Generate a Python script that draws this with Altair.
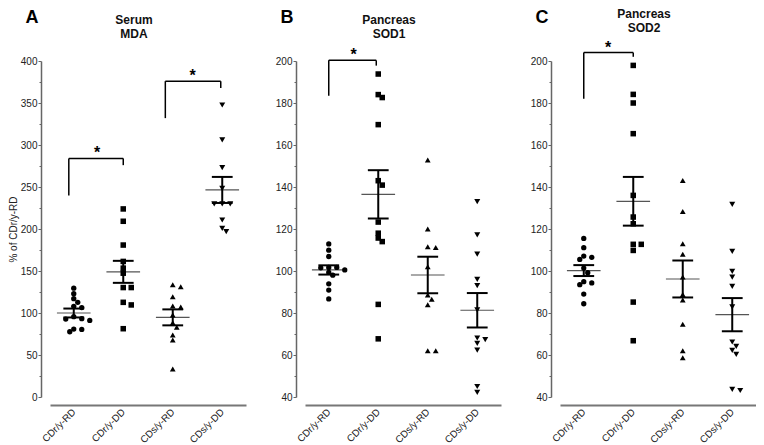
import json
import altair as alt
import pandas as pd

GROUPS = ["CDr/y-RD", "CDr/y-DD", "CDs/y-RD", "CDs/y-DD"]
SHAPES = ["circle", "square", "triangle-up", "triangle-down"]

# ---------------- Panel A: Serum MDA ----------------
A_CDR_RD = [129.5, 123, 117, 112.7, 108, 106.4, 95.6, 93.2, 92.8, 91.2, 80.9, 80.5, 77.7]
A_CDR_DD = [223.9, 209.2, 180.9, 161.4, 153.4, 147.4, 130.3, 130.3, 112.7, 109.6, 81.3]
A_CDS_RD = [133.7, 131.3, 119.4, 108.3, 107.1, 97.6, 88.5, 82.9, 73.8, 67.9, 33.3]
A_CDS_DD = [347.6, 306, 273, 248.3, 229.8, 229.8, 229.8, 210.7, 200.7, 196.8]
A_MEAN = [100.0, 149.0, 94.8, 246.5]
A_SEM = [5.3, 13.1, 9.5, 15.5]
A_BR_X1 = [-0.1, 1.85]
A_BR_X2 = [1.0, 2.97]
A_BR_TOP = [284, 376]
A_BR_LEFT_END = [240, 332]
A_BR_RIGHT_END = [276, 368]
A_STAR_X = [0.47, 2.4]

# ---------------- Panel B: Pancreas SOD1 ----------------
B_CDR_RD = [112.9, 109.9, 106.9, 101.7, 101.7, 101.5, 100.5, 99.3, 98, 93.9, 90.9, 86.7]
B_CDR_DD = [193.8, 184, 182.6, 169.7, 143, 140.9, 123.3, 118, 115.7, 114, 84.1, 67.7]
B_CDS_RD = [152.8, 120, 111.6, 111.2, 102, 88.6, 86.6, 83.9, 62, 62]
B_CDS_DD = [133, 117.2, 108, 96, 93, 81.5, 68.1, 67.3, 65.5, 62.3, 45, 42.2]
B_MEAN = [100.5, 136.5, 98.1, 81.3]
B_SEM = [2.2, 11.5, 8.7, 8.2]
B_BR_X1 = [0.0]
B_BR_X2 = [0.96]
B_BR_TOP = [200.3]
B_BR_LEFT_END = [183.4]
B_BR_RIGHT_END = [197.8]
B_STAR_X = [0.5]

# ---------------- Panel C: Pancreas SOD2 ----------------
C_CDR_RD = [115.5, 111.1, 107.1, 106.5, 105.5, 101.4, 99.2, 94.9, 94.3, 93.5, 89, 84.4]
C_CDR_DD = [197.9, 184.1, 180, 165.4, 136, 125.7, 122.5, 112.7, 112.7, 109.8, 85.2, 66.8]
C_CDS_RD = [143.1, 128.3, 113, 108, 97.2, 88.8, 86.2, 74.6, 62, 58.7]
C_CDS_DD = [131.7, 109.3, 99.8, 97.1, 92.7, 82.9, 66.2, 64.1, 62.2, 60.3, 43.6, 43.1]
C_MEAN = [100.2, 133.2, 96.2, 79.2]
C_SEM = [2.6, 11.6, 8.8, 7.9]
C_BR_X1 = [0.0]
C_BR_X2 = [1.0]
C_BR_TOP = [204]
C_BR_LEFT_END = [182]
C_BR_RIGHT_END = [202]
C_STAR_X = [0.49]

FONT = "Liberation Sans"
W, H = 196, 336
XDOM = [-0.48, 3.48]
UNIT_PX = W / (XDOM[1] - XDOM[0])


def swarm(vals, ppu, step=4.0, dmin=4.8):
    order = sorted(range(len(vals)), key=lambda i: -vals[i])
    cands = [0.0]
    for k in range(1, 12):
        cands += [k * step, -k * step]
    placed = []
    off = [0.0] * len(vals)
    for i in order:
        y = vals[i] * ppu
        chosen = 0.0
        for c in cands:
            if all((c - px) ** 2 + (y - py) ** 2 >= dmin ** 2 for px, py in placed):
                chosen = c
                break
        placed.append((chosen, y))
        off[i] = chosen / UNIT_PX
    return off


def panel(letter, title, title_top, data, means, sems, br, ydom, step, ytitle):
    ppu = H / (ydom[1] - ydom[0])
    xscale = alt.Scale(domain=XDOM, nice=False, zero=False)
    xaxis = alt.Axis(
        values=[0, 1, 2, 3],
        labelExpr=json.dumps(GROUPS) + "[datum.value]",
        labelAngle=-45, labelAlign="right", labelBaseline="middle",
        ticks=False, grid=False, title=None, offset=8,
        domainColor="#777", domainWidth=2, labelPadding=5,
        labelFontSize=9.8, labelColor="#222", labelFont=FONT,
    )
    yscale = alt.Scale(domain=list(ydom), nice=False, zero=False)
    yvals = list(range(ydom[0], ydom[1] + 1, step // 2))
    test = f"datum.value % {step} === 0"
    yaxis = alt.Axis(
        values=yvals,
        labelExpr=f"{test} ? datum.label : ''",
        tickSize={"condition": {"test": test, "value": 3}, "value": 2},
        offset=9, grid=False, domainColor="#666", domainWidth=1.5,
        tickColor="#666", tickWidth=1, labelPadding=1, labelFontSize=10,
        labelColor="#222", labelFont=FONT,
        title=ytitle if ytitle else None, titleFontSize=10,
        titleFontWeight="normal", titleColor="#222", titleFont=FONT,
        titlePadding=2,
    )

    def X(f):
        return alt.X(f, type="quantitative", scale=xscale, axis=xaxis)

    def Y(f):
        return alt.Y(f, type="quantitative", scale=yscale, axis=yaxis)

    rows = []
    for gi, (name, vals) in enumerate(zip(GROUPS, data)):
        offs = swarm(vals, ppu)
        for v, o in zip(vals, offs):
            rows.append({"g": name, "x": gi + o, "v": v})
    pts = pd.DataFrame(rows)

    st = pd.DataFrame({"g": GROUPS, "c": [0, 1, 2, 3], "m": means, "s": sems})
    st["lo"] = st["m"] - st["s"]
    st["hi"] = st["m"] + st["s"]
    st["ml"] = st["c"] - 0.34
    st["mr"] = st["c"] + 0.34
    caps = pd.concat([st.assign(y=st["lo"]), st.assign(y=st["hi"])])
    caps["cl"] = caps["c"] - 0.21
    caps["cr"] = caps["c"] + 0.21

    x1s, x2s, tops, lefts, rights, stars = br
    seg = []
    for a, b, t, l, r in zip(x1s, x2s, tops, lefts, rights):
        seg.append({"x": a, "x2": b, "y": t, "y2": t})
        seg.append({"x": a, "x2": a, "y": t, "y2": l})
        seg.append({"x": b, "x2": b, "y": t, "y2": r})
    seg = pd.DataFrame(seg)
    star = pd.DataFrame({"x": stars, "y": tops, "t": ["*"] * len(stars)})

    mean_rule = alt.Chart(st).mark_rule(color="#555", strokeWidth=1.2).encode(
        x=X("ml"), x2="mr", y=Y("m"))
    sem_rule = alt.Chart(st).mark_rule(color="black", strokeWidth=2).encode(
        x=X("c"), y=Y("lo"), y2="hi")
    cap_rule = alt.Chart(caps).mark_rule(color="black", strokeWidth=2).encode(
        x=X("cl"), x2="cr", y=Y("y"))
    br_rule = alt.Chart(seg).mark_rule(color="black", strokeWidth=1.5).encode(
        x=X("x"), x2="x2", y=Y("y"), y2="y2")
    star_text = alt.Chart(star).mark_text(
        fontSize=16, fontWeight="bold", font=FONT, baseline="alphabetic",
        align="center", color="black").encode(x=X("x"), y=Y("y"), text="t:N")
    points = alt.Chart(pts).mark_point(filled=True, color="black", opacity=1).encode(
        x=X("x"), y=Y("v"),
        shape=alt.Shape("g:N", scale=alt.Scale(domain=GROUPS, range=SHAPES), legend=None),
        size=alt.Size("g:N", scale=alt.Scale(domain=GROUPS, range=[28, 36, 36, 36]), legend=None),
    )
    letter_t = alt.Chart(pd.DataFrame({"t": [letter]})).mark_text(
        fontSize=18, fontWeight="bold", font=FONT, align="center",
        baseline="middle", color="black").encode(
        x=alt.value(-18), y=alt.value(-43), text="t:N")
    title_t = alt.Chart(pd.DataFrame({"t": [title]})).mark_text(
        fontSize=12, fontWeight="bold", font=FONT, align="center",
        baseline="top", lineBreak="\n", lineHeight=14, color="#111").encode(
        x=alt.value(84), y=alt.value(title_top), text="t:N")

    return alt.layer(mean_rule, sem_rule, cap_rule, br_rule, star_text,
                     points, letter_t, title_t).properties(width=W, height=H)


pA = panel("A", "Serum\nMDA", -46, [A_CDR_RD, A_CDR_DD, A_CDS_RD, A_CDS_DD],
           A_MEAN, A_SEM,
           (A_BR_X1, A_BR_X2, A_BR_TOP, A_BR_LEFT_END, A_BR_RIGHT_END, A_STAR_X),
           (0, 400), 50, "% of CDr/y-RD")
pB = panel("B", "Pancreas\nSOD1", -46, [B_CDR_RD, B_CDR_DD, B_CDS_RD, B_CDS_DD],
           B_MEAN, B_SEM,
           (B_BR_X1, B_BR_X2, B_BR_TOP, B_BR_LEFT_END, B_BR_RIGHT_END, B_STAR_X),
           (40, 200), 20, None)
pC = panel("C", "Pancreas\nSOD2", -52, [C_CDR_RD, C_CDR_DD, C_CDS_RD, C_CDS_DD],
           C_MEAN, C_SEM,
           (C_BR_X1, C_BR_X2, C_BR_TOP, C_BR_LEFT_END, C_BR_RIGHT_END, C_STAR_X),
           (40, 200), 20, None)

chart = alt.hconcat(pA, pB, pC, spacing=29).configure_view(stroke=None).properties(
    background="white", padding=0)

chart.save("out.html", embed_options={"renderer": "svg", "actions": False})
